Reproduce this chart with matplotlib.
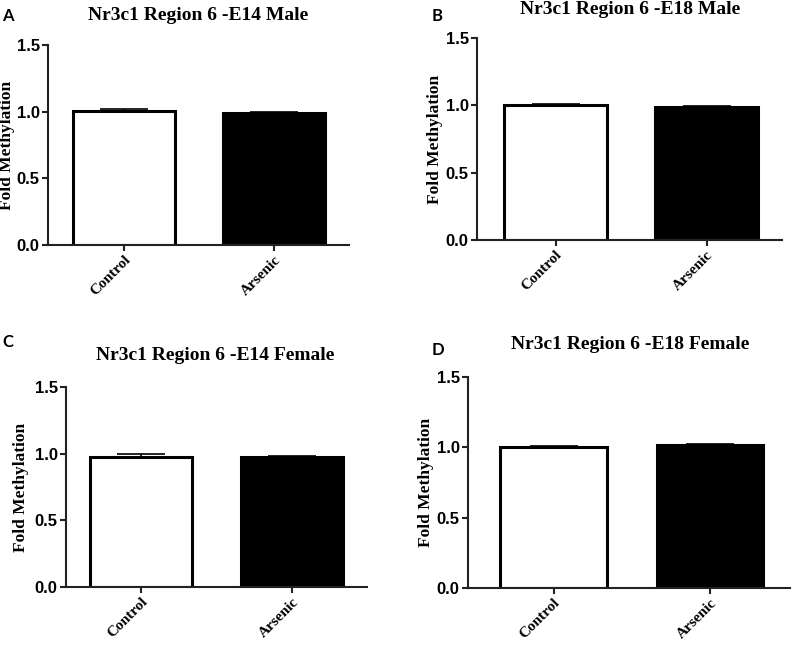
import numpy as np
import matplotlib.pyplot as plt

# data
groups = ["Control", "Arsenic"]
panel_letters = ["A", "B", "C", "D"]
titles = ["Nr3c1 Region 6 -E14 Male", "Nr3c1 Region 6 -E18 Male",
          "Nr3c1 Region 6 -E14 Female", "Nr3c1 Region 6 -E18 Female"]
means_a = [1.005, 0.993]
errs_a = [0.013, 0.007]
means_b = [1.0, 0.987]
errs_b = [0.010, 0.005]
means_c = [0.977, 0.975]
errs_c = [0.018, 0.005]
means_d = [1.0, 1.016]
errs_d = [0.007, 0.007]
yticks = [0.0, 0.5, 1.0, 1.5]

W, H = 791, 645
fig = plt.figure(figsize=(W/100, H/100), dpi=100)

# axes boxes in pixels: left, right, top(1.5), bottom(0), xlim
boxes = [
    (48, 349, 45, 245, (-0.507, 1.5)),
    (477, 782, 38, 240, (-0.52, 1.5)),
    (66, 367, 387, 587, (-0.5, 1.5)),
    (468, 790, 377, 588, (-0.546, 1.51)),
]
ylabel_right = [15, 443, 29, 434]
title_pos = [(198, 15), (630, 9), (215, 355), (630, 345)]
letter_pos = [(2, 16), (432, 16), (2, 342), (432, 350)]
all_means = [means_a, means_b, means_c, means_d]
all_errs = [errs_a, errs_b, errs_c, errs_d]

serif = "Liberation Serif"
sans = "Liberation Sans"

for i in range(4):
    l, r, t, b, xl = boxes[i]
    ax = fig.add_axes([l/W, 1 - b/H, (r - l)/W, (b - t)/H])
    x = np.arange(len(groups))
    m = all_means[i]
    e = all_errs[i]
    ax.errorbar(x, m, yerr=[[0, 0], e], fmt="none", ecolor="black",
                elinewidth=1.2, capsize=17, capthick=1.2, zorder=1)
    ax.bar(x, m, width=0.68, color=["white", "black"], edgecolor="black",
           linewidth=2.2, zorder=2)
    ax.set_xlim(*xl)
    ax.set_ylim(0, 1.5)
    ax.set_yticks(yticks)
    ax.set_yticklabels([f"{v:.1f}" for v in yticks], fontfamily=sans,
                       fontweight="bold", fontsize=12)
    ax.set_xticks(x)
    ax.set_xticklabels(groups, rotation=45, ha="right", rotation_mode="anchor",
                       fontfamily=serif, fontweight="bold", fontsize=11)
    ax.set_ylabel("Fold Methylation", fontfamily=serif, fontweight="bold",
                  fontsize=12.5)
    ax.yaxis.set_label_coords((ylabel_right[i] - l) / (r - l), 0.5)
    for s in ["top", "right"]:
        ax.spines[s].set_visible(False)
    for s in ["left", "bottom"]:
        ax.spines[s].set_linewidth(1.5)
        ax.spines[s].set_color("#222222")
    ax.tick_params(axis="both", length=4, width=1.5, color="#222222", pad=2)

    tx, ty = title_pos[i]
    fig.text(tx/W, 1 - ty/H, titles[i], ha="center", va="center",
             fontfamily=serif, fontweight="bold", fontsize=14)
    lx, ly = letter_pos[i]
    fig.text(lx/W, 1 - ly/H, panel_letters[i], ha="left", va="center",
             fontfamily="Lato", fontweight="bold", fontsize=12)

fig.savefig("out.png", dpi=100)
